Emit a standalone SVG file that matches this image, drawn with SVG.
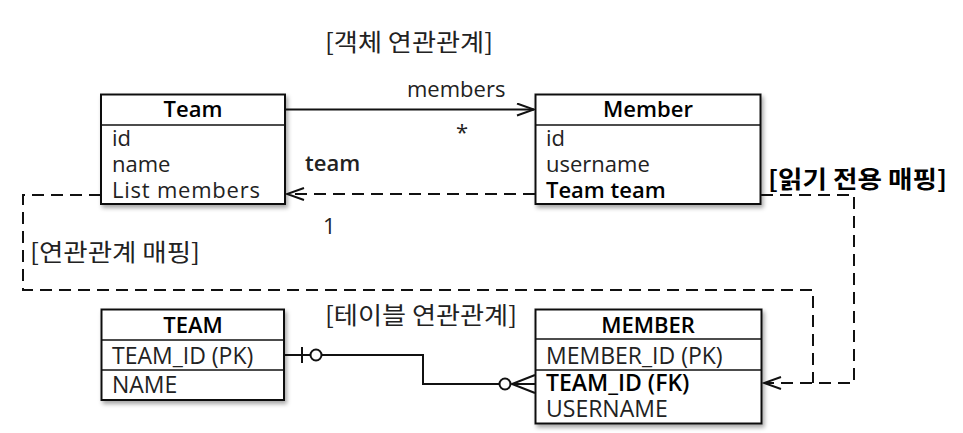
<svg xmlns="http://www.w3.org/2000/svg" width="963" height="433" viewBox="0 0 963 433">
<style>
.box{fill:#fff;stroke:#111;stroke-width:2}
.sep{stroke:#111;stroke-width:1.6}
.hd{font-family:"Open Sans","Liberation Sans",sans-serif;font-weight:600;font-size:22px;fill:#000;text-anchor:middle}
.row{font-family:"Open Sans","Liberation Sans",sans-serif;font-size:22px;fill:#222}
.trow{font-family:"Open Sans","Liberation Sans",sans-serif;font-size:23px;fill:#222}
.b{font-weight:600;fill:#000}
.lbl{font-family:"Open Sans","Liberation Sans",sans-serif;font-size:22px;fill:#222}
.kr{font-family:"Noto Sans CJK KR","Noto Sans",sans-serif;font-size:24px;fill:#222}
.krb{font-family:"Noto Sans CJK KR","Noto Sans",sans-serif;font-size:24px;font-weight:bold;fill:#000}
.ln{fill:none;stroke:#111;stroke-width:2}
.dash{fill:none;stroke:#111;stroke-width:2;stroke-dasharray:12 7}
</style>
<defs>
<filter id="sh" x="-10%" y="-10%" width="130%" height="140%">
<feDropShadow dx="2" dy="3" stdDeviation="2" flood-color="#000" flood-opacity="0.35"/>
</filter>
<marker id="open" markerWidth="20" markerHeight="16" refX="18" refY="7" orient="auto" markerUnits="userSpaceOnUse">
<path d="M1,1 L18,7 L1,13" fill="none" stroke="#111" stroke-width="2"/>
</marker>
</defs>

<text class="kr" x="325" y="51" textLength="168" lengthAdjust="spacingAndGlyphs">[객체 연관관계]</text>
<text class="kr" x="30" y="261" textLength="170" lengthAdjust="spacingAndGlyphs">[연관관계 매핑]</text>
<text class="krb" x="768" y="188" textLength="179" lengthAdjust="spacingAndGlyphs">[읽기 전용 매핑]</text>
<text class="kr" x="325" y="324" textLength="192" lengthAdjust="spacingAndGlyphs">[테이블 연관관계]</text>

<g id="connectors">
<path class="ln" d="M285,109.5 L534,109.5" marker-end="url(#open)"/>
<path class="dash" d="M535,194 L287,194" marker-end="url(#open)"/>
<path class="dash" d="M101,195 L23,195 L23,290 L813,290 L813,383"/>
<path class="dash" d="M761,195 L854,195 L854,383 L764,383" marker-end="url(#open)"/>
<path class="ln" d="M284,355 L423,355 L423,384 L500,384"/>
<line class="ln" x1="302" y1="347" x2="302" y2="363"/>
<circle cx="316" cy="355" r="5.5" fill="#fff" stroke="#111" stroke-width="2"/>
<circle cx="505" cy="384" r="5.5" fill="#fff" stroke="#111" stroke-width="2"/>
<path class="ln" d="M535,375 L512,384 L535,393 M512,384 L535,384"/>
<text class="lbl" x="407" y="97">members</text>
<text class="lbl" x="456" y="140">*</text>
<text class="lbl b" x="305" y="171">team</text>
<text class="lbl" x="323" y="234">1</text>
</g>

<g id="team">
<rect class="box" x="101" y="94.5" width="184" height="109.5" filter="url(#sh)"/>
<line class="sep" x1="101" y1="125" x2="285" y2="125"/>
<text class="hd" x="193" y="117">Team</text>
<text class="row" x="112" y="146">id</text>
<text class="row" x="112" y="172">name</text>
<text class="row" x="112" y="198" textLength="148" lengthAdjust="spacing">List members</text>
</g>

<g id="member">
<rect class="box" x="535.5" y="94.5" width="225" height="109.5" filter="url(#sh)"/>
<line class="sep" x1="535.5" y1="125" x2="760.5" y2="125"/>
<text class="hd" x="648" y="117">Member</text>
<text class="row" x="546" y="146">id</text>
<text class="row" x="546" y="172">username</text>
<text class="row b" x="546" y="198">Team team</text>
</g>

<g id="TEAM">
<rect class="box" x="101.5" y="309.5" width="182.5" height="90.5" filter="url(#sh)"/>
<line class="sep" x1="101.5" y1="340" x2="284" y2="340"/>
<line class="sep" x1="101.5" y1="370" x2="284" y2="370"/>
<text class="hd" x="193" y="333">TEAM</text>
<text class="trow" x="112" y="364">TEAM_ID (PK)</text>
<text class="trow" x="112" y="393">NAME</text>
</g>

<g id="MEMBER">
<rect class="box" x="535.5" y="309.5" width="226" height="114" filter="url(#sh)"/>
<line class="sep" x1="535.5" y1="339" x2="761.5" y2="339"/>
<line class="sep" x1="535.5" y1="370" x2="761.5" y2="370"/>
<text class="hd" x="648" y="333">MEMBER</text>
<text class="trow" x="546" y="364">MEMBER_ID (PK)</text>
<text class="trow b" x="546" y="391">TEAM_ID (FK)</text>
<text class="trow" x="546" y="417">USERNAME</text>
</g>
</svg>
